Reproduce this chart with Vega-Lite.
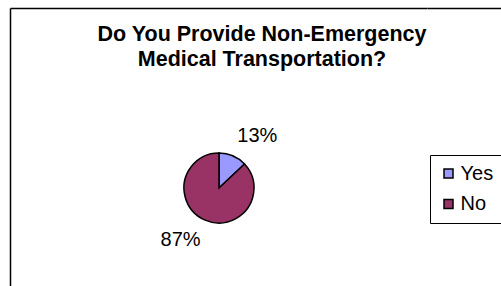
{
  "$schema": "https://vega.github.io/schema/vega-lite/v6.json",
  "autosize": {"type": "none"},
  "padding": {"left": 10.5, "top": 8.5, "right": -6.5, "bottom": -81.5},
  "background": "white",
  "params": [
    {"name": "width", "value": 497},
    {"name": "height", "value": 359}
  ],
  "config": {"font": "Liberation Sans"},
  "title": {
    "text": ["Do You Provide Non-Emergency", "Medical Transportation?"],
    "fontSize": 21.5,
    "fontWeight": "bold",
    "color": "#000",
    "anchor": "middle",
    "frame": "group",
    "lineHeight": 25,
    "baseline": "top",
    "offset": 0,
    "dx": 3,
    "dy": 63
  },
  "spacing": 0,
  "bounds": "flush",
  "hconcat": [
    {
      "width": 417,
      "height": 359,
      "view": {"stroke": "#000", "strokeWidth": 1.5, "strokeDash": [417, 776, 359, 0], "fill": null},
      "data": {
        "values": [
          {"answer": "Yes", "share": 13, "label": "13%"},
          {"answer": "No", "share": 87, "label": "87%"}
        ]
      },
      "encoding": {
        "theta": {"field": "share", "type": "quantitative", "stack": true},
        "order": {"field": "share", "type": "quantitative", "sort": "ascending"}
      },
      "layer": [
        {
          "mark": {"type": "arc", "outerRadius": 35, "stroke": "#000", "strokeWidth": 1.5},
          "encoding": {
            "color": {
              "field": "answer",
              "type": "nominal",
              "scale": {"domain": ["Yes", "No"], "range": ["#9999FF", "#993366"]},
              "legend": {
                "title": null,
                "orient": "none",
                "legendX": 419.5,
                "legendY": 146.5,
                "symbolType": "square",
                "symbolSize": 81,
                "symbolStrokeColor": "#000",
                "symbolStrokeWidth": 1.5,
                "labelFontSize": 20,
                "labelColor": "#000",
                "labelOffset": 2,
                "strokeColor": "#000",
                "padding": 8.5,
                "rowPadding": 10.5
              }
            }
          }
        },
        {
          "mark": {"type": "text", "radius": 65, "thetaOffset": 0.223, "fontSize": 20, "color": "#000"},
          "encoding": {
            "text": {"field": "label", "type": "nominal"}
          }
        }
      ]
    },
    {
      "width": 80,
      "height": 359,
      "view": {"stroke": "#000", "strokeWidth": 1.5, "strokeDash": [80, 10000], "fill": null},
      "data": {"values": []},
      "mark": "point",
      "encoding": {}
    }
  ]
}
